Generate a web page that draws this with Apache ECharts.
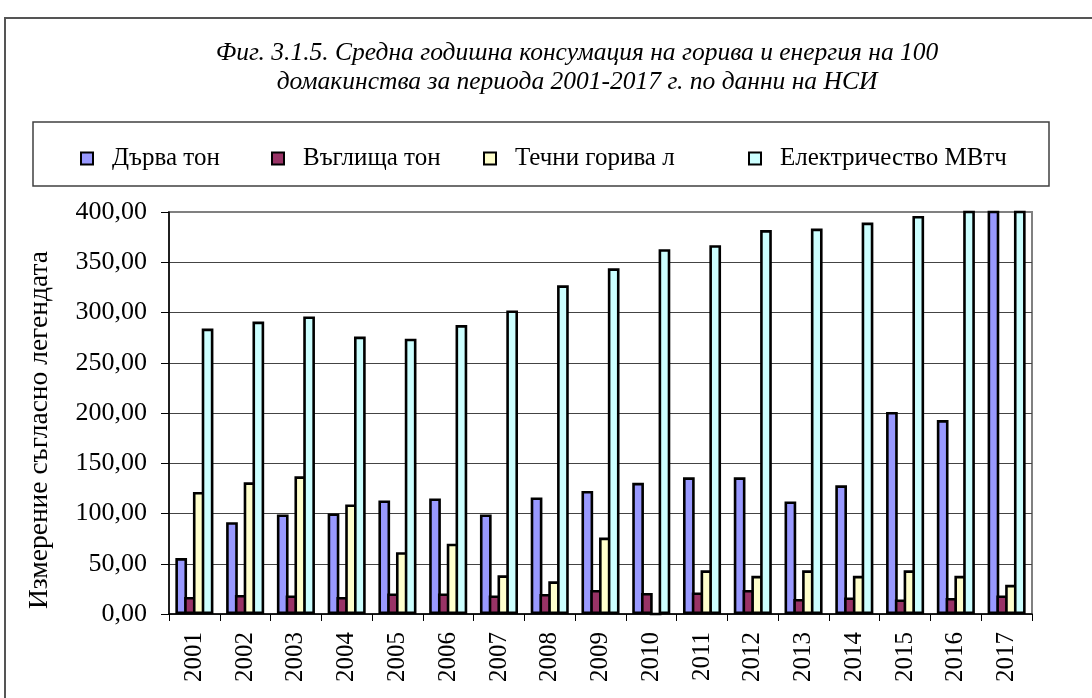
<!DOCTYPE html>
<html>
<head>
<meta charset="utf-8">
<script src="https://cdn.jsdelivr.net/npm/echarts@6/dist/echarts.min.js"></script>
<style>
html,body{margin:0;padding:0;background:#fff;}
#chart{width:1092px;height:698px;}
</style>
</head>
<body>
<div id="chart"></div>
<script>
const years = ['2001','2002','2003','2004','2005','2006','2007','2008','2009','2010','2011','2012','2013','2014','2015','2016','2017'];
const seriesNames = ['Дърва тон','Въглища тон','Течни горива л','Електричество МВтч'];
const firewood = [55.6, 91.4, 99, 100, 113, 115, 99, 116, 122.5, 130.5, 136, 136, 112, 128, 201, 193, 440];
const coal = [17, 19, 18.5, 17, 20.5, 20.5, 18.5, 20, 24, 21, 21.5, 24, 15, 16.5, 14.5, 16, 18.5];
const liquidFuel = [121.5, 131, 137, 109, 61.5, 70, 38.5, 32.5, 76, 0, 43.5, 38, 43.5, 38, 43.5, 38, 29];
const electricity = [284, 291, 296, 276, 274, 287.5, 302, 327, 344, 363, 367, 382, 383.5, 389.5, 396, 402, 412];
const titleLines = ['Фиг. 3.1.5. Средна годишна консумация на горива и енергия на 100','домакинства за периода 2001-2017 г. по данни на НСИ'];
const yAxisTitle = 'Измерение съгласно легендата';

const colors = ['#9999FF','#993366','#FFFFCC','#CCFFFF'];
const FONT = "'Liberation Serif','Times New Roman',serif";
const values = [firewood, coal, liquidFuel, electricity];
const legendLefts = [75, 266, 478, 743];

const chart = echarts.init(document.getElementById('chart'));
chart.setOption({
  animation: false,
  backgroundColor: '#fff',
  title: {
    text: titleLines.join('\n'),
    left: 572, top: 34, textAlign: 'center',
    textStyle: {fontFamily: FONT, fontStyle: 'italic', fontWeight: 'normal', fontSize: 25.5, lineHeight: 29, color: '#000'}
  },
  legend: seriesNames.map((n, i) => ({
    data: [n], left: legendLefts[i], top: 141,
    icon: 'rect', itemWidth: 12, itemHeight: 12,
    itemStyle: {borderColor: '#000', borderWidth: 2},
    textStyle: {fontFamily: FONT, fontSize: 25, color: '#000', padding: [0,0,0,14]},
    selectedMode: false
  })),
  grid: {left: 169, top: 212, right: 60, bottom: 84, show: true, borderColor: '#808080', borderWidth: 2, containLabel: false},
  xAxis: {
    type: 'category', data: years,
    axisLine: {lineStyle: {color: '#000', width: 1.5}},
    axisTick: {show: true, length: 7, lineStyle: {color: '#000', width: 1}},
    axisLabel: {rotate: 90, margin: 18, fontFamily: FONT, fontSize: 25, color: '#000'}
  },
  yAxis: {
    type: 'value', min: 0, max: 400, interval: 50,
    axisLine: {show: true, lineStyle: {color: '#000', width: 1.5}},
    axisTick: {show: true, length: 8, lineStyle: {color: '#000', width: 1}},
    axisLabel: {margin: 22, fontFamily: FONT, fontSize: 26, color: '#000',
      formatter: v => v.toFixed(2).replace('.', ',')},
    splitLine: {lineStyle: {color: ['#444','#444','#444','#444','#444','#444','#444','#444','#808080'], width: 1.2}}
  },
  graphic: [
    {type: 'rect', shape: {x: 5, y: 18, width: 1300, height: 900}, style: {fill: 'none', stroke: '#555', lineWidth: 2}, silent: true, z: -1},
    {type: 'rect', shape: {x: 33, y: 122, width: 1016, height: 64}, style: {fill: 'none', stroke: '#404040', lineWidth: 1.5}, silent: true},
    {type: 'text', x: 40, y: 430, rotation: Math.PI / 2,
      style: {text: yAxisTitle, font: "27.5px 'Liberation Serif'", fill: '#000', textAlign: 'center', textVerticalAlign: 'middle'}}
  ],
  series: seriesNames.map((n, i) => ({
    name: n, type: 'bar', data: values[i],
    barGap: '-25%', barCategoryGap: '25%',
    itemStyle: {color: colors[i], borderColor: '#000', borderWidth: 2.6},
    emphasis: {disabled: true}
  }))
});
</script>
</body>
</html>
